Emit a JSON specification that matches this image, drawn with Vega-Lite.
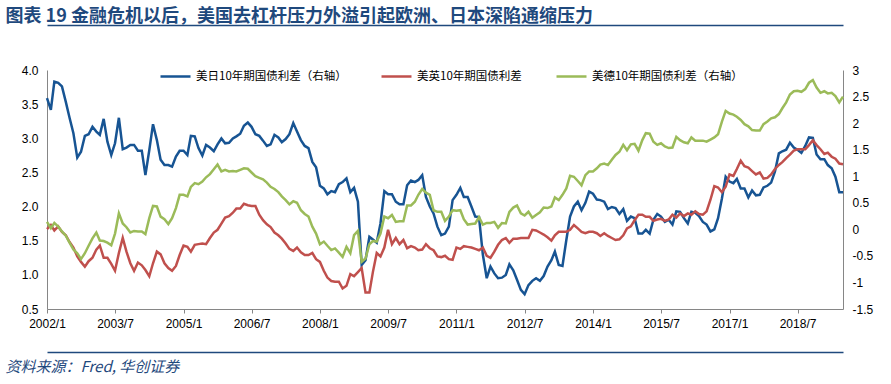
{
  "$schema": "https://vega.github.io/schema/vega-lite/v6.json",
  "width": 796,
  "height": 239,
  "autosize": "none",
  "padding": {"left": 47, "top": 70, "right": 48, "bottom": 75},
  "background": "white",
  "data": {
    "format": {"parse": {"t": "date:'%Y-%m'"}},
    "values": [
      {"t":"2002-01","jp":2.47,"uk":1.67,"de":0.14},
      {"t":"2002-02","jp":2.25,"uk":1.73,"de":0.02},
      {"t":"2002-03","jp":2.78,"uk":1.65,"de":0.12},
      {"t":"2002-04","jp":2.76,"uk":1.71,"de":0.05},
      {"t":"2002-05","jp":2.69,"uk":1.63,"de":-0.04},
      {"t":"2002-06","jp":2.40,"uk":1.58,"de":-0.12},
      {"t":"2002-07","jp":2.10,"uk":1.48,"de":-0.25},
      {"t":"2002-08","jp":1.81,"uk":1.40,"de":-0.38},
      {"t":"2002-09","jp":1.35,"uk":1.27,"de":-0.45},
      {"t":"2002-10","jp":1.46,"uk":1.19,"de":-0.56},
      {"t":"2002-11","jp":1.76,"uk":1.12,"de":-0.45},
      {"t":"2002-12","jp":1.79,"uk":1.20,"de":-0.31},
      {"t":"2003-01","jp":1.93,"uk":1.25,"de":-0.17},
      {"t":"2003-02","jp":1.84,"uk":1.37,"de":-0.06},
      {"t":"2003-03","jp":1.78,"uk":1.43,"de":-0.21},
      {"t":"2003-04","jp":2.08,"uk":1.25,"de":-0.22},
      {"t":"2003-05","jp":1.65,"uk":1.25,"de":-0.25},
      {"t":"2003-06","jp":1.40,"uk":1.16,"de":-0.30},
      {"t":"2003-07","jp":1.62,"uk":1.06,"de":-0.08},
      {"t":"2003-08","jp":2.10,"uk":1.32,"de":0.30},
      {"t":"2003-09","jp":1.51,"uk":1.54,"de":0.11},
      {"t":"2003-10","jp":1.54,"uk":1.34,"de":0.04},
      {"t":"2003-11","jp":1.59,"uk":1.17,"de":-0.06},
      {"t":"2003-12","jp":1.59,"uk":1.06,"de":-0.03},
      {"t":"2004-01","jp":1.48,"uk":1.18,"de":-0.04},
      {"t":"2004-02","jp":1.48,"uk":1.14,"de":-0.04},
      {"t":"2004-03","jp":1.02,"uk":1.07,"de":-0.09},
      {"t":"2004-04","jp":1.49,"uk":0.98,"de":0.21},
      {"t":"2004-05","jp":1.98,"uk":1.17,"de":0.44},
      {"t":"2004-06","jp":1.68,"uk":1.34,"de":0.43},
      {"t":"2004-07","jp":1.31,"uk":1.30,"de":0.24},
      {"t":"2004-08","jp":1.21,"uk":1.17,"de":0.19},
      {"t":"2004-09","jp":1.21,"uk":1.10,"de":0.10},
      {"t":"2004-10","jp":1.18,"uk":1.06,"de":0.21},
      {"t":"2004-11","jp":1.37,"uk":1.13,"de":0.40},
      {"t":"2004-12","jp":1.48,"uk":1.29,"de":0.65},
      {"t":"2005-01","jp":1.48,"uk":1.43,"de":0.65},
      {"t":"2005-02","jp":1.40,"uk":1.41,"de":0.62},
      {"t":"2005-03","jp":1.76,"uk":1.34,"de":0.80},
      {"t":"2005-04","jp":1.75,"uk":1.44,"de":0.87},
      {"t":"2005-05","jp":1.53,"uk":1.45,"de":0.85},
      {"t":"2005-06","jp":1.39,"uk":1.46,"de":0.90},
      {"t":"2005-07","jp":1.59,"uk":1.45,"de":0.98},
      {"t":"2005-08","jp":1.54,"uk":1.54,"de":1.04},
      {"t":"2005-09","jp":1.47,"uk":1.62,"de":1.13},
      {"t":"2005-10","jp":1.60,"uk":1.66,"de":1.22},
      {"t":"2005-11","jp":1.71,"uk":1.75,"de":1.09},
      {"t":"2005-12","jp":1.62,"uk":1.84,"de":1.12},
      {"t":"2006-01","jp":1.63,"uk":1.86,"de":1.09},
      {"t":"2006-02","jp":1.71,"uk":1.91,"de":1.10},
      {"t":"2006-03","jp":1.75,"uk":1.97,"de":1.09},
      {"t":"2006-04","jp":1.80,"uk":1.97,"de":1.12},
      {"t":"2006-05","jp":1.95,"uk":2.04,"de":1.15},
      {"t":"2006-06","jp":2.01,"uk":2.02,"de":1.14},
      {"t":"2006-07","jp":1.93,"uk":2.01,"de":1.07},
      {"t":"2006-08","jp":1.79,"uk":2.01,"de":1.00},
      {"t":"2006-09","jp":1.76,"uk":1.88,"de":0.97},
      {"t":"2006-10","jp":1.67,"uk":1.80,"de":0.94},
      {"t":"2006-11","jp":1.57,"uk":1.74,"de":0.88},
      {"t":"2006-12","jp":1.60,"uk":1.70,"de":0.80},
      {"t":"2007-01","jp":1.78,"uk":1.62,"de":0.76},
      {"t":"2007-02","jp":1.73,"uk":1.58,"de":0.70},
      {"t":"2007-03","jp":1.64,"uk":1.53,"de":0.62},
      {"t":"2007-04","jp":1.70,"uk":1.46,"de":0.55},
      {"t":"2007-05","jp":1.79,"uk":1.38,"de":0.47},
      {"t":"2007-06","jp":2.00,"uk":1.35,"de":0.53},
      {"t":"2007-07","jp":1.84,"uk":1.40,"de":0.50},
      {"t":"2007-08","jp":1.68,"uk":1.33,"de":0.36},
      {"t":"2007-09","jp":1.57,"uk":1.29,"de":0.29},
      {"t":"2007-10","jp":1.53,"uk":1.29,"de":0.24},
      {"t":"2007-11","jp":1.27,"uk":1.32,"de":0.05},
      {"t":"2007-12","jp":1.17,"uk":1.23,"de":-0.08},
      {"t":"2008-01","jp":0.82,"uk":1.19,"de":-0.28},
      {"t":"2008-02","jp":0.77,"uk":1.06,"de":-0.23},
      {"t":"2008-03","jp":0.66,"uk":0.96,"de":-0.31},
      {"t":"2008-04","jp":0.72,"uk":0.91,"de":-0.39},
      {"t":"2008-05","jp":0.70,"uk":0.90,"de":-0.36},
      {"t":"2008-06","jp":0.85,"uk":0.90,"de":-0.44},
      {"t":"2008-07","jp":0.89,"uk":0.80,"de":-0.52},
      {"t":"2008-08","jp":0.96,"uk":0.84,"de":-0.33},
      {"t":"2008-09","jp":0.70,"uk":1.01,"de":-0.45},
      {"t":"2008-10","jp":0.78,"uk":0.98,"de":-0.11},
      {"t":"2008-11","jp":0.52,"uk":1.04,"de":-0.03},
      {"t":"2008-12","jp":-0.67,"uk":1.10,"de":-0.61},
      {"t":"2009-01","jp":-0.58,"uk":0.74,"de":-0.55},
      {"t":"2009-02","jp":-0.14,"uk":0.74,"de":-0.28},
      {"t":"2009-03","jp":-0.19,"uk":1.04,"de":-0.22},
      {"t":"2009-04","jp":-0.25,"uk":1.32,"de":-0.23},
      {"t":"2009-05","jp":0.11,"uk":1.27,"de":-0.08},
      {"t":"2009-06","jp":0.72,"uk":1.40,"de":0.24},
      {"t":"2009-07","jp":0.66,"uk":1.66,"de":0.21},
      {"t":"2009-08","jp":0.66,"uk":1.45,"de":0.27},
      {"t":"2009-09","jp":0.52,"uk":1.54,"de":0.14},
      {"t":"2009-10","jp":0.47,"uk":1.45,"de":0.15},
      {"t":"2009-11","jp":0.47,"uk":1.51,"de":0.15},
      {"t":"2009-12","jp":0.83,"uk":1.39,"de":0.45},
      {"t":"2010-01","jp":0.92,"uk":1.42,"de":0.45},
      {"t":"2010-02","jp":0.89,"uk":1.40,"de":0.52},
      {"t":"2010-03","jp":0.93,"uk":1.36,"de":0.65},
      {"t":"2010-04","jp":1.02,"uk":1.37,"de":0.76},
      {"t":"2010-05","jp":0.61,"uk":1.45,"de":0.69},
      {"t":"2010-06","jp":0.43,"uk":1.39,"de":0.65},
      {"t":"2010-07","jp":0.30,"uk":1.36,"de":0.36},
      {"t":"2010-08","jp":0.05,"uk":1.27,"de":0.33},
      {"t":"2010-09","jp":-0.11,"uk":1.26,"de":0.33},
      {"t":"2010-10","jp":-0.08,"uk":1.28,"de":0.16},
      {"t":"2010-11","jp":0.05,"uk":1.23,"de":0.24},
      {"t":"2010-12","jp":0.55,"uk":1.22,"de":0.36},
      {"t":"2011-01","jp":0.65,"uk":1.40,"de":0.35},
      {"t":"2011-02","jp":0.78,"uk":1.38,"de":0.36},
      {"t":"2011-03","jp":0.61,"uk":1.42,"de":0.19},
      {"t":"2011-04","jp":0.61,"uk":1.41,"de":0.09},
      {"t":"2011-05","jp":0.43,"uk":1.40,"de":0.10},
      {"t":"2011-06","jp":0.24,"uk":1.38,"de":0.11},
      {"t":"2011-07","jp":0.23,"uk":1.36,"de":0.23},
      {"t":"2011-08","jp":-0.48,"uk":1.40,"de":0.09},
      {"t":"2011-09","jp":-0.92,"uk":1.28,"de":0.12},
      {"t":"2011-10","jp":-0.70,"uk":1.25,"de":0.12},
      {"t":"2011-11","jp":-0.83,"uk":1.34,"de":0.14},
      {"t":"2011-12","jp":-0.92,"uk":1.44,"de":0.03},
      {"t":"2012-01","jp":-0.91,"uk":1.51,"de":0.12},
      {"t":"2012-02","jp":-0.86,"uk":1.54,"de":0.11},
      {"t":"2012-03","jp":-0.66,"uk":1.47,"de":0.33},
      {"t":"2012-04","jp":-0.77,"uk":1.53,"de":0.41},
      {"t":"2012-05","jp":-0.95,"uk":1.53,"de":0.45},
      {"t":"2012-06","jp":-1.14,"uk":1.54,"de":0.30},
      {"t":"2012-07","jp":-1.22,"uk":1.54,"de":0.26},
      {"t":"2012-08","jp":-1.05,"uk":1.54,"de":0.33},
      {"t":"2012-09","jp":-0.97,"uk":1.66,"de":0.22},
      {"t":"2012-10","jp":-0.92,"uk":1.65,"de":0.27},
      {"t":"2012-11","jp":-0.97,"uk":1.62,"de":0.32},
      {"t":"2012-12","jp":-0.88,"uk":1.59,"de":0.41},
      {"t":"2013-01","jp":-0.70,"uk":1.55,"de":0.40},
      {"t":"2013-02","jp":-0.58,"uk":1.50,"de":0.43},
      {"t":"2013-03","jp":-0.42,"uk":1.58,"de":0.60},
      {"t":"2013-04","jp":-0.67,"uk":1.63,"de":0.55},
      {"t":"2013-05","jp":-0.69,"uk":1.63,"de":0.65},
      {"t":"2013-06","jp":-0.20,"uk":1.63,"de":0.77},
      {"t":"2013-07","jp":0.24,"uk":1.66,"de":1.01},
      {"t":"2013-08","jp":0.43,"uk":1.73,"de":0.99},
      {"t":"2013-09","jp":0.52,"uk":1.68,"de":0.91},
      {"t":"2013-10","jp":0.36,"uk":1.63,"de":0.83},
      {"t":"2013-11","jp":0.50,"uk":1.61,"de":1.02},
      {"t":"2013-12","jp":0.71,"uk":1.63,"de":1.09},
      {"t":"2014-01","jp":0.67,"uk":1.63,"de":1.09},
      {"t":"2014-02","jp":0.56,"uk":1.61,"de":1.15},
      {"t":"2014-03","jp":0.55,"uk":1.57,"de":1.22},
      {"t":"2014-04","jp":0.52,"uk":1.61,"de":1.24},
      {"t":"2014-05","jp":0.38,"uk":1.57,"de":1.21},
      {"t":"2014-06","jp":0.42,"uk":1.54,"de":1.31},
      {"t":"2014-07","jp":0.40,"uk":1.51,"de":1.40},
      {"t":"2014-08","jp":0.29,"uk":1.52,"de":1.46},
      {"t":"2014-09","jp":0.38,"uk":1.58,"de":1.59},
      {"t":"2014-10","jp":0.16,"uk":1.68,"de":1.49},
      {"t":"2014-11","jp":0.24,"uk":1.71,"de":1.60},
      {"t":"2014-12","jp":0.21,"uk":1.80,"de":1.61},
      {"t":"2015-01","jp":-0.08,"uk":1.88,"de":1.48},
      {"t":"2015-02","jp":-0.08,"uk":1.88,"de":1.68},
      {"t":"2015-03","jp":-0.01,"uk":1.85,"de":1.81},
      {"t":"2015-04","jp":-0.08,"uk":1.85,"de":1.80},
      {"t":"2015-05","jp":0.18,"uk":1.79,"de":1.65},
      {"t":"2015-06","jp":0.29,"uk":1.81,"de":1.59},
      {"t":"2015-07","jp":0.24,"uk":1.82,"de":1.62},
      {"t":"2015-08","jp":0.14,"uk":1.79,"de":1.56},
      {"t":"2015-09","jp":0.18,"uk":1.81,"de":1.53},
      {"t":"2015-10","jp":0.09,"uk":1.88,"de":1.54},
      {"t":"2015-11","jp":0.34,"uk":1.84,"de":1.74},
      {"t":"2015-12","jp":0.33,"uk":1.90,"de":1.68},
      {"t":"2016-01","jp":0.21,"uk":1.86,"de":1.64},
      {"t":"2016-02","jp":0.11,"uk":1.90,"de":1.62},
      {"t":"2016-03","jp":0.33,"uk":1.88,"de":1.73},
      {"t":"2016-04","jp":0.31,"uk":1.93,"de":1.67},
      {"t":"2016-05","jp":0.25,"uk":1.89,"de":1.67},
      {"t":"2016-06","jp":0.14,"uk":1.88,"de":1.67},
      {"t":"2016-07","jp":0.09,"uk":1.93,"de":1.65},
      {"t":"2016-08","jp":-0.04,"uk":2.10,"de":1.69},
      {"t":"2016-09","jp":0.00,"uk":2.30,"de":1.73},
      {"t":"2016-10","jp":0.21,"uk":2.28,"de":1.79},
      {"t":"2016-11","jp":0.58,"uk":2.21,"de":2.03},
      {"t":"2016-12","jp":0.99,"uk":2.29,"de":2.23},
      {"t":"2017-01","jp":0.90,"uk":2.47,"de":2.18},
      {"t":"2017-02","jp":0.87,"uk":2.45,"de":2.16},
      {"t":"2017-03","jp":0.95,"uk":2.55,"de":2.12},
      {"t":"2017-04","jp":0.77,"uk":2.67,"de":2.06},
      {"t":"2017-05","jp":0.77,"uk":2.59,"de":1.98},
      {"t":"2017-06","jp":0.60,"uk":2.57,"de":1.94},
      {"t":"2017-07","jp":0.73,"uk":2.52,"de":1.87},
      {"t":"2017-08","jp":0.64,"uk":2.47,"de":1.86},
      {"t":"2017-09","jp":0.65,"uk":2.50,"de":1.86},
      {"t":"2017-10","jp":0.79,"uk":2.41,"de":1.98},
      {"t":"2017-11","jp":0.82,"uk":2.42,"de":2.03},
      {"t":"2017-12","jp":0.88,"uk":2.47,"de":2.09},
      {"t":"2018-01","jp":1.09,"uk":2.55,"de":2.11},
      {"t":"2018-02","jp":1.43,"uk":2.61,"de":2.17},
      {"t":"2018-03","jp":1.47,"uk":2.65,"de":2.28},
      {"t":"2018-04","jp":1.50,"uk":2.71,"de":2.39},
      {"t":"2018-05","jp":1.63,"uk":2.76,"de":2.54},
      {"t":"2018-06","jp":1.54,"uk":2.82,"de":2.60},
      {"t":"2018-07","jp":1.50,"uk":2.84,"de":2.61},
      {"t":"2018-08","jp":1.44,"uk":2.84,"de":2.59},
      {"t":"2018-09","jp":1.57,"uk":2.84,"de":2.64},
      {"t":"2018-10","jp":1.73,"uk":2.90,"de":2.76},
      {"t":"2018-11","jp":1.72,"uk":2.97,"de":2.81},
      {"t":"2018-12","jp":1.41,"uk":2.90,"de":2.67},
      {"t":"2019-01","jp":1.32,"uk":2.84,"de":2.57},
      {"t":"2019-02","jp":1.32,"uk":2.77,"de":2.60},
      {"t":"2019-03","jp":1.21,"uk":2.79,"de":2.56},
      {"t":"2019-04","jp":1.15,"uk":2.73,"de":2.57},
      {"t":"2019-05","jp":0.99,"uk":2.70,"de":2.51},
      {"t":"2019-06","jp":0.70,"uk":2.63,"de":2.39},
      {"t":"2019-07","jp":0.70,"uk":2.62,"de":2.50}
    ]
  },
  "layer": [
    {
      "mark": {"type": "line", "strokeWidth": 2.5, "clip": false},
      "encoding": {
        "x": {
          "field": "t", "type": "temporal",
          "scale": {"domain": [{"year": 2002, "month": 1, "date": 1}, {"year": 2019, "month": 7, "date": 1}]},
          "axis": {
            "orient": "bottom", "offset": 43, "labels": false, "ticks": false, "grid": false,
            "domainColor": "#1F497D", "domainWidth": 1.5,
            "title": "资料来源：Fred, 华创证券",
            "titleFont": "Noto Sans CJK SC", "titleFontSize": 15, "titleFontStyle": "italic",
            "titleFontWeight": "normal", "titleColor": "#1F497D",
            "titleAnchor": "start", "titleAlign": "left", "titleBaseline": "middle",
            "titleX": -42, "titleY": 14
          }
        },
        "y": {
          "field": "jp", "type": "quantitative",
          "scale": {"domain": [-1.5, 3], "zero": false, "nice": false},
          "axis": null
        },
        "color": {
          "datum": "美日10年期国债利差（右轴）",
          "type": "nominal",
          "scale": {"domain": ["美日10年期国债利差（右轴）", "美英10年期国债利差", "美德10年期国债利差（右轴）"], "range": ["#175493", "#C0504D", "#9BBB59"]},
          "legend": {
            "orient": "none", "direction": "horizontal", "legendX": 112, "legendY": -10,
            "title": null, "symbolType": "stroke", "symbolSize": 900, "symbolStrokeWidth": 2.5,
            "labelFont": "Noto Sans CJK SC", "labelFontSize": 11.5, "labelColor": "#000000",
            "labelOffset": 4, "columnPadding": 29, "labelLimit": 300
          }
        }
      }
    },
    {
      "mark": {"type": "line", "strokeWidth": 2.5, "clip": false},
      "encoding": {
        "x": {
          "field": "t", "type": "temporal",
          "axis": {
            "orient": "bottom", "title": null, "grid": false,
            "values": [
              {"year": 2002, "month": 1, "date": 1}, {"year": 2003, "month": 7, "date": 1},
              {"year": 2005, "month": 1, "date": 1}, {"year": 2006, "month": 7, "date": 1},
              {"year": 2008, "month": 1, "date": 1}, {"year": 2009, "month": 7, "date": 1},
              {"year": 2011, "month": 1, "date": 1}, {"year": 2012, "month": 7, "date": 1},
              {"year": 2014, "month": 1, "date": 1}, {"year": 2015, "month": 7, "date": 1},
              {"year": 2017, "month": 1, "date": 1}, {"year": 2018, "month": 7, "date": 1}
            ],
            "labelExpr": "year(datum.value) + '/' + (month(datum.value) + 1)",
            "labelFont": "Liberation Sans", "labelFontSize": 12, "labelColor": "#000000",
            "labelPadding": 5, "tickSize": 4, "tickColor": "#868686", "domainColor": "#868686",
            "labelOverlap": false, "labelFlush": false
          }
        },
        "y": {
          "field": "uk", "type": "quantitative",
          "scale": {"domain": [0.5, 4], "zero": false, "nice": false},
          "axis": {
            "orient": "left", "title": null, "grid": false,
            "values": [0.5, 1, 1.5, 2, 2.5, 3, 3.5, 4], "format": ".1f",
            "ticks": false, "tickSize": 0, "labelPadding": 9,
            "labelFont": "Liberation Sans", "labelFontSize": 12, "labelColor": "#000000",
            "domainColor": "#868686"
          }
        },
        "color": {"datum": "美英10年期国债利差", "type": "nominal"}
      }
    },
    {
      "mark": {"type": "line", "strokeWidth": 2.5, "clip": false},
      "encoding": {
        "x": {
          "field": "t", "type": "temporal",
          "axis": {
            "orient": "top", "offset": 45, "labels": false, "ticks": false, "grid": false,
            "domain": true, "domainColor": "#1F497D", "domainWidth": 1.5,
            "title": "图表 19 金融危机以后，美国去杠杆压力外溢引起欧洲、日本深陷通缩压力",
            "titleFont": "Noto Sans CJK SC", "titleFontSize": 18, "titleFontWeight": "bold",
            "titleColor": "#1F497D",
            "titleAnchor": "start", "titleAlign": "left", "titleBaseline": "middle",
            "titleX": -42, "titleY": -9
          }
        },
        "y": {
          "field": "de", "type": "quantitative",
          "scale": {"domain": [-1.5, 3], "zero": false, "nice": false},
          "axis": {
            "orient": "right", "title": null,
            "values": [-1.5, -1, -0.5, 0, 0.5, 1, 1.5, 2, 2.5, 3, 3.85],
            "labelExpr": "datum.value > 3.5 ? '' : '' + datum.value",
            "grid": true,
            "gridColor": "#1F497D",
            "gridWidth": 1.5,
            "gridOpacity": {"condition": {"test": "datum.value > 3.5", "value": 1}, "value": 0},
            "ticks": false, "tickSize": 0, "labelPadding": 9,
            "labelFont": "Liberation Sans", "labelFontSize": 12, "labelColor": "#000000",
            "domainColor": "#868686"
          }
        },
        "color": {"datum": "美德10年期国债利差（右轴）", "type": "nominal"}
      }
    }
  ],
  "resolve": {"scale": {"y": "independent"}, "axis": {"x": "independent"}},
  "config": {
    "view": {"stroke": null}
  }
}
